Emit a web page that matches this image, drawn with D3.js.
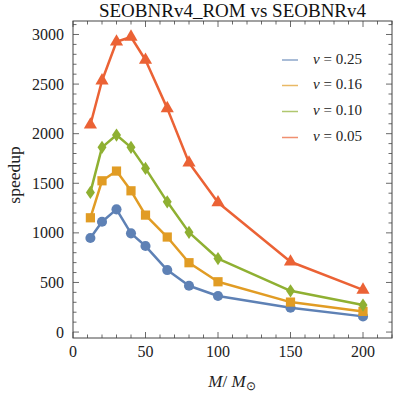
<!DOCTYPE html>
<html><head><meta charset="utf-8">
<script src="https://cdn.jsdelivr.net/npm/d3@7"></script>
<style>body{margin:0;background:#fff}</style>
</head><body><svg id="c" width="395" height="395"></svg>
<script>
const masses = [12, 20, 30, 40, 50, 65, 80, 100, 150, 200];
const nu025 = [948, 1112, 1237, 995, 867, 625, 467, 363, 245, 158];
const nu016 = [1152, 1525, 1623, 1424, 1179, 958, 699, 507, 302, 208];
const nu010 = [1408, 1862, 1986, 1862, 1650, 1313, 1005, 741, 416, 272];
const nu005 = [2090, 2534, 2927, 2975, 2743, 2255, 1707, 1306, 709, 425];
const seriesNames = ["\u03BD = 0.25", "\u03BD = 0.16", "\u03BD = 0.10", "\u03BD = 0.05"];
const xTicks = [0, 50, 100, 150, 200];
const yTicks = [0, 500, 1000, 1500, 2000, 2500, 3000];

const series = [
  {vals: nu025, color: "#5E81B5", shape: "circle"},
  {vals: nu016, color: "#E19C24", shape: "square"},
  {vals: nu010, color: "#8FB032", shape: "diamond"},
  {vals: nu005, color: "#EB6235", shape: "triangle"}
];

const svg = d3.select("#c");
const L = 73, R = 392, T = 21, B = 338;
const x = d3.scaleLinear().domain([0, 220]).range([L, R]);
const y = d3.scaleLinear().domain([-60, 3136]).range([B, T]);
const frameCol = "#444";
const font = "Liberation Serif, serif";

// frame
svg.append("rect").attr("x", L).attr("y", T).attr("width", R - L).attr("height", B - T)
  .attr("fill", "none").attr("stroke", frameCol).attr("stroke-width", 1);

// ticks
const xMinor = d3.range(0, 221, 10);
const yMinor = d3.range(0, 3101, 100);
const g = svg.append("g").attr("stroke", frameCol).attr("stroke-width", 0.8);
xMinor.forEach(v => {
  const major = v % 50 === 0;
  const len = major ? 6 : 3.5;
  const px = x(v);
  g.append("line").attr("x1", px).attr("x2", px).attr("y1", B).attr("y2", B - len);
  g.append("line").attr("x1", px).attr("x2", px).attr("y1", T).attr("y2", T + len);
});
yMinor.forEach(v => {
  const major = v % 500 === 0;
  const len = major ? 6 : 3.5;
  const py = y(v);
  g.append("line").attr("x1", L).attr("x2", L + len).attr("y1", py).attr("y2", py);
  g.append("line").attr("x1", R).attr("x2", R - len).attr("y1", py).attr("y2", py);
});

// tick labels
xTicks.forEach(v => {
  svg.append("text").attr("x", x(v)).attr("y", B + 19).attr("text-anchor", "middle")
    .attr("font-family", font).attr("font-size", 16).attr("fill", "#222").text(v);
});
yTicks.forEach(v => {
  svg.append("text").attr("x", L - 9).attr("y", y(v) + 5.5).attr("text-anchor", "end")
    .attr("font-family", font).attr("font-size", 16).attr("fill", "#222").text(v);
});

// title
svg.append("text").attr("x", 232.5).attr("y", 17).attr("text-anchor", "middle")
  .attr("font-family", font).attr("font-size", 19).attr("fill", "#111").text("SEOBNRv4_ROM vs SEOBNRv4");

// axis labels
svg.append("text").attr("transform", "translate(20,175) rotate(-90)").attr("text-anchor", "middle")
  .attr("font-family", font).attr("font-size", 17.5).attr("fill", "#222").text("speedup");
const xl = svg.append("text").attr("x", 232).attr("y", 387).attr("text-anchor", "middle")
  .attr("font-family", font).attr("font-size", 17).attr("fill", "#222");
xl.append("tspan").attr("font-style", "italic").text("M");
xl.append("tspan").text("/ ");
xl.append("tspan").attr("font-style", "italic").text("M");
xl.append("tspan").attr("font-size", 12).attr("dy", 3).text("\u2299");

// series
const line = d3.line().x((d, i) => x(masses[i])).y(d => y(d));
const symType = {circle: d3.symbolCircle, square: d3.symbolSquare, diamond: d3.symbolDiamond, triangle: d3.symbolTriangle};
const symSize = {circle: 80, square: 85, diamond: 70, triangle: 75};
series.forEach(s => {
  svg.append("path").datum(s.vals).attr("d", line).attr("fill", "none")
    .attr("stroke", s.color).attr("stroke-width", 2.5).attr("stroke-linejoin", "round");
  const sym = d3.symbol().type(symType[s.shape]).size(symSize[s.shape]);
  s.vals.forEach((v, i) => {
    svg.append("path").attr("d", sym()).attr("fill", s.color)
      .attr("transform", `translate(${x(masses[i])},${y(v)})` + (s.shape === "diamond" ? " scale(1,0.85)" : ""));
  });
});

// legend
const legY = [60, 85.5, 111.5, 137.5];
series.forEach((s, i) => {
  svg.append("line").attr("x1", 282).attr("x2", 298).attr("y1", legY[i]).attr("y2", legY[i])
    .attr("stroke", s.color).attr("stroke-width", 1.5).attr("opacity", 0.7);
  const t = svg.append("text").attr("x", 313).attr("y", legY[i] + 3.5)
    .attr("font-family", font).attr("font-size", 15).attr("fill", "#222");
  t.append("tspan").attr("font-style", "italic").text("\u03BD");
  t.append("tspan").text(seriesNames[i].slice(1));
});
</script></body></html>
